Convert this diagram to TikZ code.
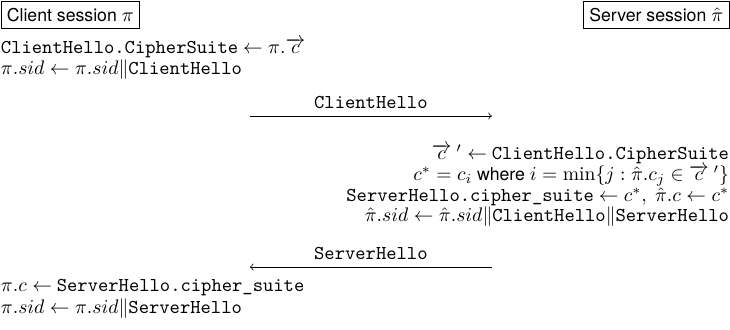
\documentclass[tikz,border=0pt]{standalone}
\usepackage{amsmath}
\usepackage{fontspec}
\setsansfont[Scale=0.9]{TeX Gyre Heros}
\tikzset{
  party/.style={draw, font=\sffamily, inner sep=3pt, inner ysep=3.5pt},
  lcalc/.style={anchor=west, inner sep=0pt, font=\sffamily},
  rcalc/.style={anchor=east, inner sep=0pt, font=\sffamily},
  msg/.style={->, thin}
}
\begin{document}
\begin{tikzpicture}[scale=1.0]
    \useasboundingbox (0,0) rectangle (13.06,-5.886);

    % Session headers
    \node[party, anchor=north west]
      (client)
      at
      (0.01,-0.01)
      {Client session $\pi$};
    \node[party, anchor=north east]
      (server)
      at
      (13.05,-0.01)
      {Server session $\hat{\pi}$};

    % Client computes ClientHello
    \node[lcalc]
      (csuite)
      at
      (0.01,-0.86)
      {\texttt{ClientHello.CipherSuite} $\leftarrow \pi.\overrightarrow{c}$};
    \node[lcalc]
      (csid)
      at
      (0.01,-1.25)
      {$\pi.sid \leftarrow \pi.sid \|$\texttt{ClientHello}};

    % First message
    \coordinate (chfrom) at (4.47,-2.075);
    \coordinate (chto) at (8.80,-2.075);
    \draw[msg]
      (chfrom) -- (chto)
      node[midway, above, font=\ttfamily] (chlabel) {ClientHello};

    % Server side
    \node[rcalc]
      (svec)
      at
      (13.05,-2.755)
      {$\overrightarrow{c}\ ' \leftarrow$ \texttt{ClientHello.CipherSuite}};
    \node[rcalc]
      (schoose)
      at
      (13.05,-3.148)
      {$c^{*} = c_{i}$ where $i = \min\{j : \hat{\pi}.c_{j} \in \overrightarrow{c}\ '\}$};
    \node[rcalc]
      (sset)
      at
      (13.05,-3.524)
      {\texttt{ServerHello.cipher\_suite} $\leftarrow c^{*},\ \hat{\pi}.c \leftarrow c^{*}$};
    \node[rcalc]
      (ssid)
      at
      (13.05,-3.882)
      {$\hat{\pi}.sid \leftarrow \hat{\pi}.sid \|$\texttt{ClientHello}$\|$\texttt{ServerHello}};

    % Second message
    \coordinate (shfrom) at (8.80,-4.776);
    \coordinate (shto) at (4.47,-4.776);
    \draw[msg]
      (shfrom) -- (shto)
      node[midway, above, font=\ttfamily] (shlabel) {ServerHello};

    % Client finishes
    \node[lcalc]
      (cset)
      at
      (0.01,-5.152)
      {$\pi.c \leftarrow$ \texttt{ServerHello.cipher\_suite}};
    \node[lcalc]
      (csid2)
      at
      (0.01,-5.528)
      {$\pi.sid \leftarrow \pi.sid \|$\texttt{ServerHello}};
  \end{tikzpicture}
\end{document}
